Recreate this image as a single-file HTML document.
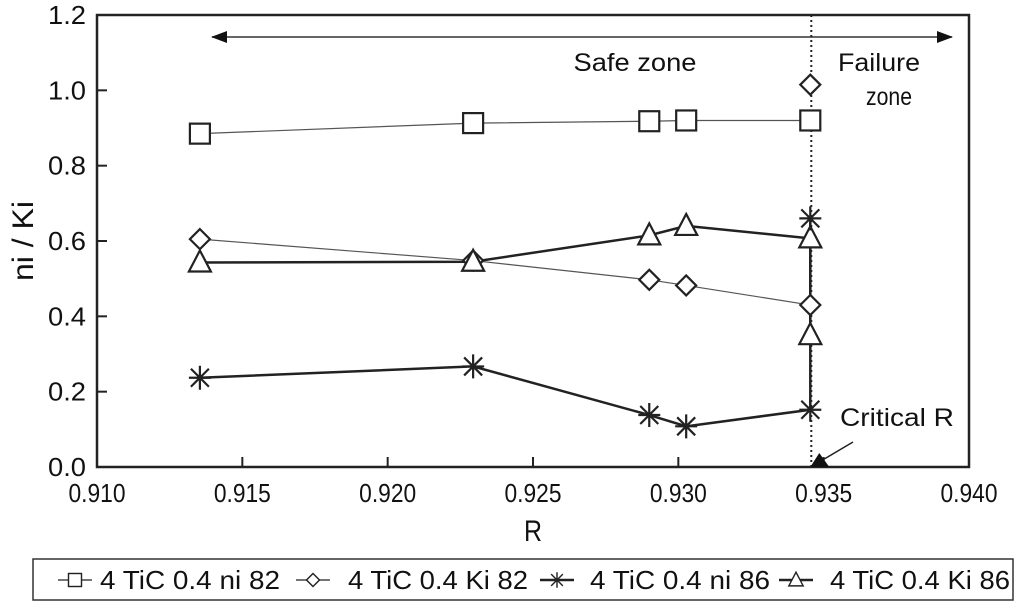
<!DOCTYPE html>
<html><head><meta charset="utf-8"><style>
body{margin:0;background:#fff;width:1024px;height:603px;overflow:hidden;font-family:"Liberation Sans",sans-serif}
svg text{font-family:"Liberation Sans",sans-serif;fill:#111}
</style></head><body>
<svg id="c" width="1024" height="603" viewBox="0 0 1024 603"></svg>
<script>
const rVals=[0.91354,0.92294,0.9290,0.93027,0.93454];
const ni82=[0.885,0.913,0.918,0.920,0.920];
const ki82=[0.605,0.548,0.497,0.482,0.430];
const ni86=[0.237,0.267,0.138,0.108,0.152];
const ki86=[0.543,0.545,0.615,0.640,0.607];
const failR=0.93454;
const ki82Fail=1.015, ni86Fail=0.66, ki86Fail=0.35;
const xTicks=[0.910,0.915,0.920,0.925,0.930,0.935,0.940];
const yTicks=[0,0.2,0.4,0.6,0.8,1.0,1.2];
const NS="http://www.w3.org/2000/svg";
const svg=document.getElementById('c');
const X0=97,X1=969,Y0=467,Y1=15;
const sx=v=>X0+(v-0.910)/0.030*(X1-X0);
const sy=v=>Y0-(v/1.2)*(Y0-Y1);
function el(t,a,p){const e=document.createElementNS(NS,t);for(const k in a)e.setAttribute(k,a[k]);(p||svg).appendChild(e);return e;}
function txt(x,y,s,sz,anc,len){const a={x:x,y:y,'font-size':sz,'text-anchor':anc||'middle'};if(len){a.textLength=len;a.lengthAdjust='spacingAndGlyphs';}const t=el('text',a);t.textContent=s;return t;}
const fr=el('rect',{x:X0,y:Y1,width:X1-X0,height:Y0-Y1,fill:'none',stroke:'#222','stroke-width':2.5});


xTicks.forEach(v=>{
 const l=el('line',{x1:sx(v),x2:sx(v),y1:Y0,y2:Y0-10,stroke:'#222','stroke-width':2});
 
 
 const t=txt(sx(v),Y0+35,v.toFixed(3),26,'middle',57);
 
 
});
yTicks.forEach(v=>{
 const l=el('line',{x1:X0,x2:X0+10,y1:sy(v),y2:sy(v),stroke:'#222','stroke-width':2});
 
 
 const t=txt(X0-11,sy(v)+9,v.toFixed(1),26,'end',38);
 
 
});
const xt=txt(533,541,'R',30,'middle',18);


const yt=txt(0,0,'ni / Ki',30,'middle',80);
yt.setAttribute('transform','translate(33,'+((Y0+Y1)/2)+') rotate(-90)');


const defs=el('defs',{});
const m=el('marker',{id:'ah',markerWidth:16,markerHeight:12,refX:15,refY:6,orient:'auto-start-reverse',markerUnits:'userSpaceOnUse'},defs);
el('path',{d:'M0,0 L16,6 L0,12 z',fill:'#111'},m);
const za=el('line',{x1:212,x2:952,y1:37,y2:37,stroke:'#333','stroke-width':1.5,'marker-start':'url(#ah)','marker-end':'url(#ah)'});


const sz=txt(635,71,'Safe zone',25,'middle',123);


const fz1=txt(879,71,'Failure',25,'middle',82);


const fz2=txt(889,105,'zone',25,'middle',46);


const dl=el('line',{x1:sx(failR)+1,x2:sx(failR)+1,y1:Y1,y2:Y0,stroke:'#222','stroke-width':2,'stroke-dasharray':'2,3'});


function poly(xs,ys,w,c,name){
 const p=el('polyline',{points:xs.map((x,i)=>sx(x)+','+sy(ys[i])).join(' '),fill:'none',stroke:c,'stroke-width':w});
 
 
}
function marker(type,x,y){
 const g=el('g',{fill:'none',stroke:'#222','stroke-width':2.2});
 const cx=x<2?sx(x):x, cy=y;
 if(type==='sq')el('rect',{x:cx-10,y:cy-10,width:20,height:20,fill:'#fff'},g);
 if(type==='di')el('path',{d:`M${cx},${cy-10}L${cx+10},${cy}L${cx},${cy+10}L${cx-10},${cy}Z`,fill:'#fff'},g);
 if(type==='tr')el('path',{d:`M${cx},${cy-12}L${cx+11},${cy+9}L${cx-11},${cy+9}Z`,fill:'#fff'},g);
 if(type==='st'){el('path',{d:`M${cx-11},${cy}H${cx+11}M${cx},${cy-12}V${cy+12}M${cx-9},${cy-9}L${cx+9},${cy+9}M${cx-9},${cy+9}L${cx+9},${cy-9}`},g);}
 return g;
}
poly(rVals,ni82,1.2,'#555','line-ni82');
poly(rVals,ki82,1.2,'#555','line-ki82');
poly(rVals.concat([failR]),ni86.concat([ni86Fail]),2.5,'#222','line-ni86');
poly(rVals.concat([failR]),ki86.concat([ki86Fail]),2.5,'#222','line-ki86');
rVals.forEach((r,i)=>{
 let g=marker('sq',r,sy(ni82[i]));
 g=marker('di',r,sy(ki82[i]));
 g=marker('st',r,sy(ni86[i]));
 g=marker('tr',r,sy(ki86[i]));
});
let g=marker('di',failR,sy(ki82Fail));
g=marker('st',failR,sy(ni86Fail));
g=marker('tr',failR,sy(ki86Fail));
const ct=el('path',{d:`M${sx(failR)+9},${Y0-14}L${sx(failR)+19},${Y0}L${sx(failR)},${Y0}Z`,fill:'#111'});


const cl=el('line',{x1:sx(failR)+14,y1:Y0-8,x2:853,y2:442,stroke:'#222','stroke-width':1.5});


const crt=txt(897,426,'Critical R',25,'middle',114);


const lg=el('g',{});


el('rect',{x:33,y:559,width:980,height:41,fill:'#fff',stroke:'#333','stroke-width':1.5},lg);
const items=[['sq','4 TiC 0.4 ni 82',58,1.2,100],['di','4 TiC 0.4 Ki 82',296,1.2,348],['st','4 TiC 0.4 ni 86',540,2.5,590],['tr','4 TiC 0.4 Ki 86',779,2.5,830]];
items.forEach(it=>{
 const gi=el('g',{},lg);
 
 
 el('line',{x1:it[2],x2:it[2]+34,y1:580,y2:580,stroke:'#222','stroke-width':it[3]},gi);
 const mk=marker(it[0],it[2]+17,580);mk.setAttribute('transform',`translate(${it[2]+17},580) scale(0.65) translate(${-(it[2]+17)},-580)`);gi.appendChild(mk);
 const t=txt(it[4],589,it[1],26,'start',180);gi.appendChild(t);
});
</script>
</body></html>
